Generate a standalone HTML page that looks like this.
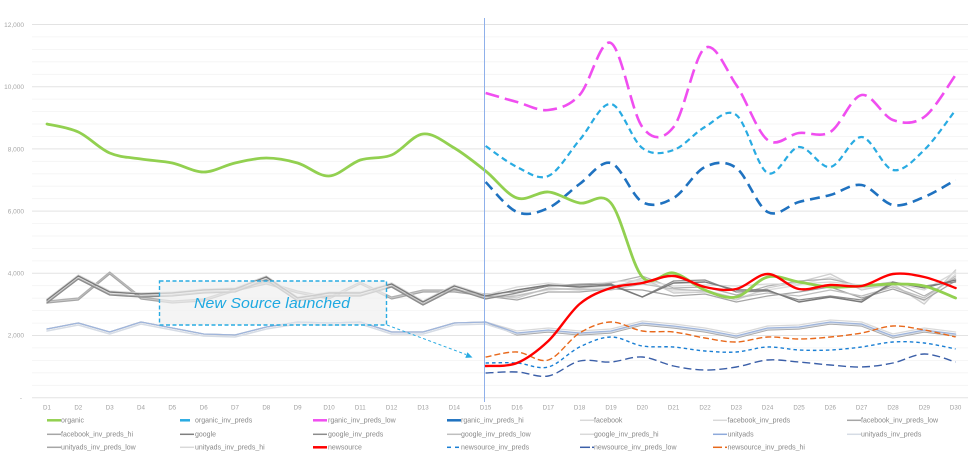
<!DOCTYPE html>
<html><head><meta charset="utf-8">
<style>
html,body{margin:0;padding:0;background:#fff;}
svg{display:block;font-family:"Liberation Sans",sans-serif;}
</style></head>
<body>
<svg id="c" width="977" height="466" viewBox="0 0 977 466" xmlns="http://www.w3.org/2000/svg">
<g id="grid"></g>
<!-- y labels -->
<g font-size="6.5" fill="#a6a6a6" text-anchor="end">
<text x="24" y="27">12,000</text>
<text x="24" y="89">10,000</text>
<text x="24" y="151.5">8,000</text>
<text x="24" y="213.5">6,000</text>
<text x="24" y="275.5">4,000</text>
<text x="24" y="337.5">2,000</text>
<text x="22" y="400">-</text>
</g>
<!-- x labels -->
<g font-size="6.2" fill="#a0a0a0" text-anchor="middle">
<text x="47" y="409.5">D1</text><text x="78.3" y="409.5">D2</text><text x="109.7" y="409.5">D3</text><text x="141" y="409.5">D4</text><text x="172.3" y="409.5">D5</text><text x="203.7" y="409.5">D6</text><text x="235" y="409.5">D7</text><text x="266.3" y="409.5">D8</text><text x="297.6" y="409.5">D9</text><text x="329" y="409.5">D10</text><text x="360.3" y="409.5">D11</text><text x="391.6" y="409.5">D12</text><text x="423" y="409.5">D13</text><text x="454.3" y="409.5">D14</text><text x="485.6" y="409.5">D15</text><text x="517" y="409.5">D16</text><text x="548.3" y="409.5">D17</text><text x="579.6" y="409.5">D18</text><text x="611" y="409.5">D19</text><text x="642.3" y="409.5">D20</text><text x="673.6" y="409.5">D21</text><text x="705" y="409.5">D22</text><text x="736.3" y="409.5">D23</text><text x="767.6" y="409.5">D24</text><text x="799" y="409.5">D25</text><text x="830.3" y="409.5">D26</text><text x="861.6" y="409.5">D27</text><text x="893" y="409.5">D28</text><text x="924.3" y="409.5">D29</text><text x="955.6" y="409.5">D30</text>
</g>
<g id="series"></g>
<!-- vertical marker -->
<line x1="484.5" y1="18" x2="484.5" y2="402" stroke="#8fb0ea" stroke-width="1"/>
<!-- annotation -->
<rect x="159.5" y="281" width="227" height="44" fill="#efefef" fill-opacity="0.7" stroke="#29abe2" stroke-width="1.4" stroke-dasharray="4,2.5"/>
<text x="194" y="308" font-size="14.5" font-style="italic" fill="#1fa9e1" textLength="156" lengthAdjust="spacingAndGlyphs">New Source launched</text>
<line x1="387" y1="325" x2="466" y2="354.5" stroke="#29abe2" stroke-width="1" stroke-dasharray="3,2.5"/>
<polygon points="472.5,357.5 465.3,357.9 467.4,352.2" fill="#29abe2"/>
<!-- legend -->
<g id="legend" font-size="7" fill="#888">
<text x="61" y="422.5">organic</text>
<text x="195" y="422.5">organic_inv_preds</text>
<text x="328" y="422.5">rganic_inv_preds_low</text>
<text x="461" y="422.5">rganic_inv_preds_hi</text>
<text x="594" y="422.5">facebook</text>
<text x="727.5" y="422.5">facebook_inv_preds</text>
<text x="861" y="422.5">facebook_inv_preds_low</text>
<text x="61" y="436.5">facebook_inv_preds_hi</text>
<text x="195" y="436.5">google</text>
<text x="328" y="436.5">google_inv_preds</text>
<text x="461" y="436.5">google_inv_preds_low</text>
<text x="594" y="436.5">google_inv_preds_hi</text>
<text x="727.5" y="436.5">unityads</text>
<text x="861" y="436.5">unityads_inv_preds</text>
<text x="61" y="449.5">unityads_inv_preds_low</text>
<text x="195" y="449.5">unityads_inv_preds_hi</text>
<text x="328" y="449.5">newsource</text>
<text x="461" y="449.5">newsource_inv_preds</text>
<text x="594" y="449.5">newsource_inv_preds_low</text>
<text x="727.5" y="449.5">newsource_inv_preds_hi</text>
</g>
<g id="sw">
<line x1="47" y1="420.3" x2="61" y2="420.3" stroke="#92d050" stroke-width="2.5"/>
<line x1="180" y1="420.3" x2="190" y2="420.3" stroke="#29abe2" stroke-width="2.5"/>
<line x1="313" y1="420.3" x2="327" y2="420.3" stroke="#f04ef0" stroke-width="2.5"/>
<line x1="447" y1="420.3" x2="461" y2="420.3" stroke="#1f72c0" stroke-width="2.5"/>
<line x1="580" y1="420.3" x2="594" y2="420.3" stroke="#d9d9d9" stroke-width="1.5"/>
<line x1="713" y1="420.3" x2="727" y2="420.3" stroke="#d9d9d9" stroke-width="1.5"/>
<line x1="847" y1="420.3" x2="861" y2="420.3" stroke="#a6a6a6" stroke-width="1.5"/>
<line x1="47" y1="434.3" x2="61" y2="434.3" stroke="#a6a6a6" stroke-width="1.5"/>
<line x1="180" y1="434.3" x2="194" y2="434.3" stroke="#7f7f7f" stroke-width="1.5"/>
<line x1="313" y1="434.3" x2="327" y2="434.3" stroke="#8c8c8c" stroke-width="1.5"/>
<line x1="447" y1="434.3" x2="461" y2="434.3" stroke="#bfbfbf" stroke-width="1.5"/>
<line x1="580" y1="434.3" x2="594" y2="434.3" stroke="#d9d9d9" stroke-width="1.5"/>
<line x1="713" y1="434.3" x2="727" y2="434.3" stroke="#8eaadb" stroke-width="1.5"/>
<line x1="847" y1="434.3" x2="861" y2="434.3" stroke="#d6dce5" stroke-width="1.5"/>
<line x1="47" y1="447.3" x2="61" y2="447.3" stroke="#a6a6a6" stroke-width="1.5"/>
<line x1="180" y1="447.3" x2="194" y2="447.3" stroke="#d9d9d9" stroke-width="1.5"/>
<line x1="313" y1="447.3" x2="327" y2="447.3" stroke="#ff0000" stroke-width="2.5"/>
<line x1="447" y1="447.3" x2="451" y2="447.3" stroke="#1a7fd4" stroke-width="1.5"/>
<line x1="455" y1="447.3" x2="459" y2="447.3" stroke="#1a7fd4" stroke-width="1.5"/>
<line x1="580" y1="447.3" x2="590" y2="447.3" stroke="#3b5fa8" stroke-width="1.5"/>
<line x1="592" y1="447.3" x2="594" y2="447.3" stroke="#3b5fa8" stroke-width="1.5"/>
<line x1="713" y1="447.3" x2="722" y2="447.3" stroke="#e8691c" stroke-width="1.5"/>
<line x1="725" y1="447.3" x2="727" y2="447.3" stroke="#e8691c" stroke-width="1.5"/>
</g>
</svg>
<script>
(function(){
var NS="http://www.w3.org/2000/svg";
function el(tag,attrs,parent){var e=document.createElementNS(NS,tag);for(var k in attrs)e.setAttribute(k,attrs[k]);parent.appendChild(e);return e;}
var grid=document.getElementById('grid');
for(var k=0;k<=30;k++){
  var y=397.7-k*12.44;
  var major=(k%5===0);
  el('line',{x1:32,x2:968,y1:y.toFixed(1),y2:y.toFixed(1),stroke:major?'#e3e3e3':'#f3f3f3','stroke-width':major?1:0.8},grid);
}
function X(i){return 47+(i-1)*31.33;}
function pts(ys,start){var p=[];for(var i=0;i<ys.length;i++)p.push([X(start+i),ys[i]]);return p;}
function cr(p){
  var d='M'+p[0][0].toFixed(1)+','+p[0][1].toFixed(1);
  for(var i=0;i<p.length-1;i++){
    var p0=p[Math.max(i-1,0)],p1=p[i],p2=p[i+1],p3=p[Math.min(i+2,p.length-1)];
    var c1x=p1[0]+(p2[0]-p0[0])/6,c1y=p1[1]+(p2[1]-p0[1])/6;
    var c2x=p2[0]-(p3[0]-p1[0])/6,c2y=p2[1]-(p3[1]-p1[1])/6;
    d+=' C'+c1x.toFixed(1)+','+c1y.toFixed(1)+' '+c2x.toFixed(1)+','+c2y.toFixed(1)+' '+p2[0].toFixed(1)+','+p2[1].toFixed(1);
  }
  return d;
}
function lin(p){return 'M'+p.map(function(q){return q[0].toFixed(1)+','+q[1].toFixed(1);}).join(' L');}
var S=document.getElementById('series');
function add(ys,start,stroke,w,dash,smooth){
  var a={d:(smooth?cr:lin)(pts(ys,start)),fill:'none',stroke:stroke,'stroke-width':w,'stroke-linejoin':'round','stroke-linecap':dash?'butt':'round'};
  if(dash)a['stroke-dasharray']=dash;
  el('path',a,S);
}
function off(arr,o){return arr.map(function(v,i){return v+(typeof o==='number'?o:o[i%o.length]);});}

var gL=[300,276,292,294,293,290,289,277,298,293,293,284,302,286,296];
var fL=[302,299,273,298,302,300,290,283,292,298,283,298,291,291,295];
var uL=[329,323,332,322,328,334,335,327,322,323,322,332,332,323,322];
var g1R=[290,285,287,285,297,283,282,290,290,302,297,302,282,288,280];
var g2R=[293,286,285,284,297,281,280,292,291,300,296,300,284,286,282];
var g3R=[296,289,289,290,284,289,291,298,293,296,290,296,287,298,276];
var g4R=[287,283,286,282,280,286,285,286,284,284,282,285,283,290,272];
var f1R=[298,288,290,288,278,293,292,300,288,282,274,290,284,304,270];
var f2R=[295,290,288,286,281,291,290,298,290,285,277,288,286,301,274];
var f3R=[300,292,292,289,290,296,294,302,296,292,287,298,289,300,281];
var f4R=[292,286,284,283,276,288,287,295,286,281,279,286,282,296,278];
var uR=[333,330,333,331,323,326,330,336,328,327,322,324,336,330,334];

add(uL.concat(off(uR,2)),1,'#a6a6a6',1.3,null,false);
add(uL.concat(off(uR,-2)),1,'#d9d9d9',1.3,null,false);
add(off(uL,2).concat(off(uR,1)),1,'#d6dce5',1.6,null,false);
add(uL.concat(uR),1,'#9fb5dc',1.3,null,false);
add(fL.concat(f2R),1,'#dedede',1.4,null,false);
add(fL.concat(f1R),1,'#cfcfcf',1.4,null,false);
add(off(fL,1).concat(f3R),1,'#a6a6a6',1.2,null,false);
add(off(fL,-1).concat(f4R),1,'#b0b0b0',1.2,null,false);
add(off(gL,-1).concat(g4R),1,'#d9d9d9',1.3,null,false);
add(off(gL,2).concat(g3R),1,'#bfbfbf',1.3,null,false);
add(off(gL,3).concat(g2R),1,'#8c8c8c',1.3,null,false);
add(gL.concat(g1R),1,'#7a7a7a',1.4,null,false);

add([93,102,110,95,43,127,127,48,85,140,133,132,95,120,117,75],15,'#f04ef0',2.6,'14,6',true);
add([146,167,176,140,104,148,150,127,115,173,147,167,137,170,150,110],15,'#29abe2',2.2,'6,4',true);
add([182,212,208,184,163,202,198,167,168,212,202,195,185,205,197,180],15,'#1f72c0',2.6,'10,6',true);
add([124,132,153,159,163,172,163,158,163,176,160,155,134,148,171,198,192,203,203,277,273,290,297,277,282,287,286,284,286,298],1,'#92d050',2.8,null,true);
add([357,352,360,333,322,331,332,338,342,337,339,337,333,326,330,337],15,'#e8691c',1.4,'6,3',true);
add([363,363,367,347,337,346,347,351,352,347,350,350,347,342,343,349],15,'#1a7fd4',1.4,'3.5,3',true);
add([373,372,376,361,362,357,366,370,367,360,362,365,367,363,354,362],15,'#3b5fa8',1.4,'8,4',true);
add([366,363,341,304,288,283,276,287,289,274,289,285,286,274,277,288],15,'#ff0000',2.4,null,true);
})();
</script>
</body></html>
